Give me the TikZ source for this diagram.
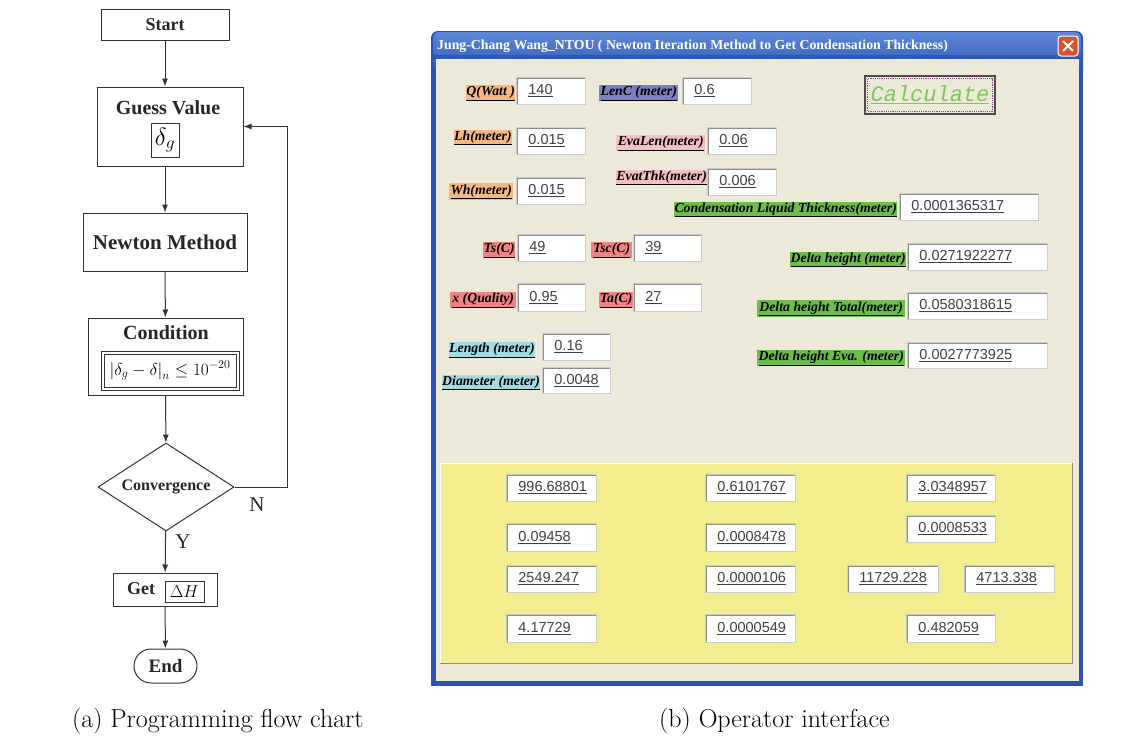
\documentclass[tikz,border=0pt]{standalone}
\usepackage{fontspec}
\usetikzlibrary{arrows.meta,shapes.geometric,shapes.misc}
\newfontfamily\uiserif{Liberation Serif}
\newfontfamily\uisans{Liberation Sans}
\newfontfamily\uimono{Liberation Mono}
\newcommand{\fsz}[1]{\fontsize{#1}{#1}\selectfont}
\newcommand{\ul}[1]{\underline{#1}}
\definecolor{xpbg}{HTML}{ECE9D8}
\definecolor{winblue}{HTML}{2F52B0}
\definecolor{bartop}{HTML}{5F88D8}
\definecolor{barbot}{HTML}{3059B6}
\definecolor{cOrange}{HTML}{F6B880}
\definecolor{cPurple}{HTML}{7C7FC2}
\definecolor{cPink}{HTML}{F5BEC0}
\definecolor{cGreen}{HTML}{6CBD4B}
\definecolor{cRed}{HTML}{EE8383}
\definecolor{cCyan}{HTML}{A3DAE3}
\definecolor{cYellow}{HTML}{F2EE8E}
\definecolor{calcGreen}{HTML}{7CC65C}
\definecolor{calcDot}{HTML}{8E4C7E}
\definecolor{closeRed}{HTML}{D8542E}
\begin{document}
\begin{tikzpicture}[x=1pt,y=-1pt,
  flow/.style={draw=black!80, line width=1pt, fill=white, inner sep=0pt},
  ftxt/.style={font=\uiserif\bfseries\fsz{20}, text=black!85},
  arr/.style={draw=black!80, line width=1pt, -{Latex[length=8pt,width=6pt]}},
  lbl/.style={fill=#1, inner sep=0pt, minimum height=16pt, anchor=north west,
    font=\uiserif\bfseries\itshape\fsz{13.8}, text=black},
  valbox/.style={fill=white, draw=black!20, line width=0.8pt, inner xsep=12pt,
    inner ysep=0pt, text width=#1, minimum height=27pt, anchor=north west,
    align=left, font=\uisans\fsz{14.5}, text=black!75,
    path picture={\draw[line width=3pt, black!45]
      (path picture bounding box.south west) -- (path picture bounding box.north west)
      -- (path picture bounding box.north east);}},
]
\useasboundingbox[fill=white] (0,0) rectangle (1140,739);

% ---------------- flow chart ----------------
\node[flow, ftxt, font=\uiserif\bfseries\fsz{18}, minimum width=128pt, minimum height=31pt] (start) at (165,24.5) {Start};

\node[flow, minimum width=146pt, minimum height=79pt] (guess) at (170,126.5) {};
\node[ftxt] (guesst) at (168,108) {Guess Value};
\node[flow, minimum width=28pt, minimum height=34pt, font=\fsz{24}] (dg) at (165,140) {$\delta_g$};

\node[flow, ftxt, font=\uiserif\bfseries\fsz{21}, minimum width=164pt, minimum height=58pt] (newton) at (165,242) {Newton Method};

\node[flow, minimum width=155pt, minimum height=77pt] (cond) at (165.5,356.5) {};
\node[ftxt] (condt) at (166,333) {Condition};
\node[draw=black!80, line width=0.8pt, fill=white, minimum width=132pt, minimum height=33pt,
  inner sep=0pt, font=\fsz{18}] (ineq) at (170,370.5)
  {$\bigl|\delta_g-\delta\bigr|_{n}\le 10^{-20}$};
\draw[black!80, line width=0.8pt] ([shift={(-2.5,-2.5)}]ineq.north west) rectangle ([shift={(2.5,2.5)}]ineq.south east);

\node[flow, diamond, minimum width=136pt, minimum height=88pt] (conv) at (166,487) {};
\node[ftxt, font=\uiserif\bfseries\fsz{16}] (convt) at (conv) {Convergence};

\node[flow, minimum width=104pt, minimum height=33pt] (get) at (165,589.5) {};
\node[ftxt, font=\uiserif\bfseries\fsz{18}] (gett) at (141,589) {Get};
\node[draw=black!80, line width=0.8pt, minimum width=39pt, minimum height=21pt, inner sep=0pt, font=\fsz{19}] (dh) at (184.5,592) {$\Delta H$};

\node[flow, rounded rectangle, ftxt, font=\uiserif\bfseries\fsz{19}, minimum width=63pt, minimum height=34pt] (end) at (165.5,666) {End};

\draw[arr] (start) -- (start |- guess.north);
\draw[arr] (guess.south -| start) -- (newton);
\draw[arr] (newton) -- (cond);
\draw[arr] (cond) -- (conv);
\draw[arr] (conv) -- (get);
\draw[arr] (get) -- (end);
\draw[arr] (conv.east) -- ++(53,0) |- (guess.east);
\node[font=\uiserif\fsz{21}, text=black!85] (nlbl) at (257,505) {N};
\node[font=\uiserif\fsz{21}, text=black!85] (ylbl) at (183,542) {Y};

% ---------------- window frame ----------------
\fill[winblue, rounded corners=7pt] (431,31) rectangle (1083,80);
\fill[winblue] (431,50) rectangle (1083,686);
\shade[top color=bartop, bottom color=barbot, rounded corners=6pt] (433,32) rectangle (1081,70);
\fill[barbot] (433,55) rectangle (1081,60);
\fill[xpbg] (436,59) rectangle (1079,681);
\node[anchor=west, text=white, font=\uiserif\bfseries\fsz{13.8}, inner sep=0pt] (title) at (437,46)
  {Jung-Chang Wang\_NTOU ( Newton Iteration Method to Get Condensation Thickness)};
\node[fill=closeRed, draw=white, line width=1pt, rounded corners=3pt, minimum size=20pt, inner sep=0pt] (close) at (1068,46) {};
\draw[white, line width=2pt] ([shift={(-5,-5)}]close.center) -- ([shift={(5,5)}]close.center)
  ([shift={(-5,5)}]close.center) -- ([shift={(5,-5)}]close.center);

% ---------------- input fields ----------------
\node[lbl=cOrange, minimum width=49pt] (lQ) at (466,85) {\ul{Q(Watt )}};
\node[valbox=45pt] (vQ) at (516,77) {\ul{140}};
\node[lbl=cPurple, minimum width=79pt] (lLenC) at (599,85) {\ul{LenC (meter)}};
\node[valbox=45pt] (vLenC) at (682,77) {\ul{0.6}};
\node[lbl=cOrange, minimum width=56pt, minimum height=15pt] (lLh) at (454,130) {\ul{Lh(meter)}};
\node[valbox=45pt] (vLh) at (516,127) {\ul{0.015}};
\node[lbl=cPink, minimum width=89pt] (lEvaLen) at (616,135) {\ul{EvaLen(meter)}};
\node[valbox=45pt] (vEvaLen) at (707,127) {\ul{0.06}};
\node[lbl=cOrange, minimum width=64pt, minimum height=17pt] (lWh) at (449,183) {\ul{Wh(meter)}};
\node[valbox=45pt] (vWh) at (516,177) {\ul{0.015}};
\node[lbl=cPink, minimum width=91pt, minimum height=15pt] (lEvat) at (616,170) {\ul{EvatThk(meter)}};
\node[valbox=45pt] (vEvat) at (707,168) {\ul{0.006}};
\node[lbl=cGreen, minimum width=223pt, minimum height=15pt] (lCond) at (674,202) {\ul{Condensation Liquid Thickness(meter)}};
\node[valbox=115pt] (vCond) at (899,193) {\ul{0.0001365317}};

\node[lbl=cRed, minimum width=32pt] (lTs) at (483,242) {\ul{Ts(C)}};
\node[valbox=44pt] (vTs) at (517,234) {\ul{49}};
\node[lbl=cRed, minimum width=41pt] (lTsc) at (591,242) {\ul{Tsc(C)}};
\node[valbox=44pt] (vTsc) at (633,234) {\ul{39}};
\node[lbl=cRed, minimum width=66pt] (lx) at (450,292) {\ul{x (Quality)}};
\node[valbox=44pt, minimum height=28pt] (vx) at (517,283) {\ul{0.95}};
\node[lbl=cRed, minimum width=34pt] (lTa) at (599,292) {\ul{Ta(C)}};
\node[valbox=44pt, minimum height=28pt] (vTa) at (633,283) {\ul{27}};
\node[lbl=cCyan, minimum width=85pt] (lLen) at (449,342) {\ul{Length (meter)}};
\node[valbox=44pt] (vLen) at (542,333) {\ul{0.16}};
\node[lbl=cCyan, minimum width=97pt, minimum height=15pt] (lDia) at (442,375) {\ul{Diameter (meter)}};
\node[valbox=44pt, minimum height=26pt] (vDia) at (542,367) {\ul{0.0048}};

\node[lbl=cGreen, minimum width=116pt, minimum height=15pt] (lDh) at (790,252) {\ul{Delta height (meter)}};
\node[valbox=116pt] (vDh) at (907,243) {\ul{0.0271922277}};
\node[lbl=cGreen, minimum width=148pt, minimum height=17pt] (lDhT) at (757,300) {\ul{Delta height Total(meter)}};
\node[valbox=116pt] (vDhT) at (907,292) {\ul{0.0580318615}};
\node[lbl=cGreen, minimum width=148pt] (lDhE) at (757,350) {\ul{Delta height Eva. (meter)}};
\node[valbox=116pt, minimum height=26pt] (vDhE) at (907,342) {\ul{0.0027773925}};

% ---------------- calculate button ----------------
\node[draw=black!70, line width=1.5pt, fill=xpbg, minimum width=130pt, minimum height=38pt, inner sep=0pt] (calc) at (930,95) {};
\draw[calcDot, densely dotted, line width=1.2pt] ([shift={(3.5,3.5)}]calc.north west) rectangle ([shift={(-3.5,-3.5)}]calc.south east);
\node[font=\uimono\itshape\fsz{22}, text=calcGreen] (calct) at (calc.center) {\ul{Calculate}};

% ---------------- results panel ----------------
\node[fill=cYellow, minimum width=632pt, minimum height=200pt, anchor=north west, inner sep=0pt] (panel) at (440,463) {};
\draw[white, line width=1pt] (panel.south west) -- (panel.north west) -- (panel.north east);
\draw[black!45, line width=1.5pt] (panel.north east) -- (panel.south east) -- (panel.south west);

\node[valbox=66pt] (r11) at (506,474) {\ul{996.68801}};
\node[valbox=66pt] (r12) at (705,474) {\ul{0.6101767}};
\node[valbox=65pt] (r13) at (906,474) {\ul{3.0348957}};
\node[valbox=66pt, minimum height=28pt] (r21) at (506,523) {\ul{0.09458}};
\node[valbox=66pt, minimum height=28pt] (r22) at (705,523) {\ul{0.0008478}};
\node[valbox=65pt] (r23) at (906,515) {\ul{0.0008533}};
\node[valbox=66pt] (r31) at (506,565) {\ul{2549.247}};
\node[valbox=66pt] (r32) at (705,565) {\ul{0.0000106}};
\node[valbox=67pt] (r33) at (847,565) {\ul{11729.228}};
\node[valbox=66pt] (r34) at (964,565) {\ul{4713.338}};
\node[valbox=66pt, minimum height=28pt] (r41) at (506,614) {\ul{4.17729}};
\node[valbox=66pt, minimum height=28pt] (r42) at (705,614) {\ul{0.0000549}};
\node[valbox=65pt, minimum height=28pt] (r43) at (906,614) {\ul{0.482059}};

% ---------------- captions ----------------
\node[anchor=base west, font=\fsz{26}, inner sep=0pt] (capA) at (72,727) {(a) Programming flow chart};
\node[anchor=base west, font=\fsz{26}, inner sep=0pt] (capB) at (659,727) {(b) Operator interface};
\end{tikzpicture}
\end{document}
